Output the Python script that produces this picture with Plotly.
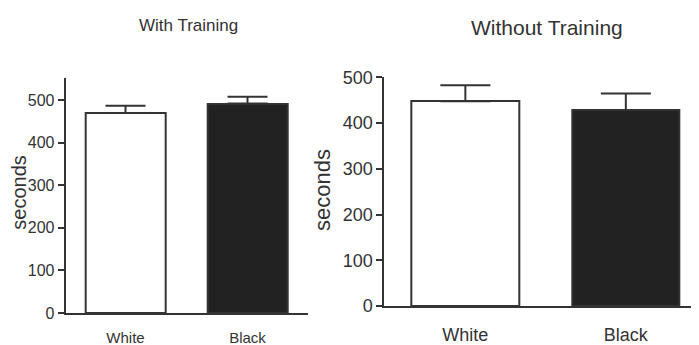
import plotly.graph_objects as go

categories = ["White", "Black"]
with_training = [470, 492]
with_training_err = [17, 16]
without_training = [448, 429]
without_training_err = [35, 36]
y_ticks = [0, 100, 200, 300, 400, 500]

FONT = "Liberation Sans, Arial, sans-serif"
INK = "#333333"
fills = ["#ffffff", "#222222"]

fig = go.Figure()

fig.add_trace(go.Bar(
    x=[0, 1], y=with_training, width=0.66,
    marker=dict(color=fills, line=dict(color=INK, width=2)),
    error_y=dict(type="data", symmetric=False, array=with_training_err,
                 arrayminus=[0, 0], color=INK, thickness=2, width=20),
    xaxis="x", yaxis="y", showlegend=False,
))
fig.add_trace(go.Bar(
    x=[0, 1], y=without_training, width=0.67,
    marker=dict(color=fills, line=dict(color=INK, width=2)),
    error_y=dict(type="data", symmetric=False, array=without_training_err,
                 arrayminus=[0, 0], color=INK, thickness=2, width=25),
    xaxis="x2", yaxis="y2", showlegend=False,
))

common_x = dict(showline=True, linecolor=INK, linewidth=2, ticks="",
                showgrid=False, zeroline=False, tickvals=[0, 1],
                ticktext=categories, fixedrange=True, automargin=False)
common_y = dict(showline=True, linecolor=INK, linewidth=2, ticks="outside",
                ticklen=6, tickwidth=2, tickcolor=INK, showgrid=False,
                zeroline=False, tickvals=y_ticks, fixedrange=True, automargin=False)

fig.update_layout(
    template="none",
    width=691, height=337,
    margin=dict(l=0, r=0, t=0, b=0, pad=0, autoexpand=False),
    paper_bgcolor="white", plot_bgcolor="white",
    font=dict(family=FONT, color=INK),
    bargap=0,
    xaxis=dict(common_x, domain=[0.0835, 0.4342], range=[-0.49, 1.496],
               anchor="y", tickfont=dict(size=15), ticklabelstandoff=10),
    yaxis=dict(common_y, domain=[0.0950, 0.7923], range=[0, 552],
               anchor="x", tickfont=dict(size=16)),
    xaxis2=dict(common_x, domain=[0.5446, 1.0], range=[-0.505, 1.456],
                anchor="y2", tickfont=dict(size=18), ticklabelstandoff=11),
    yaxis2=dict(common_y, domain=[0.1157, 0.7953], range=[0, 501],
                anchor="x2", tickfont=dict(size=18)),
    annotations=[
        dict(text="With Training", x=0.2605, y=0.9466, xref="paper", yref="paper",
             showarrow=False, font=dict(size=17), xanchor="center", yanchor="middle"),
        dict(text="Without Training", x=0.7796, y=0.9407, xref="paper", yref="paper",
             showarrow=False, font=dict(size=21), xanchor="center", yanchor="middle"),
        dict(text="seconds", x=0.0155, y=0.454, xref="paper", yref="paper",
             showarrow=False, font=dict(size=20), textangle=-90, borderpad=0,
             xanchor="center", yanchor="middle"),
        dict(text="seconds", x=0.4559, y=0.46, xref="paper", yref="paper",
             showarrow=False, font=dict(size=22), textangle=-90,
             xanchor="center", yanchor="middle"),
    ],
)

fig.write_html("out.html")
